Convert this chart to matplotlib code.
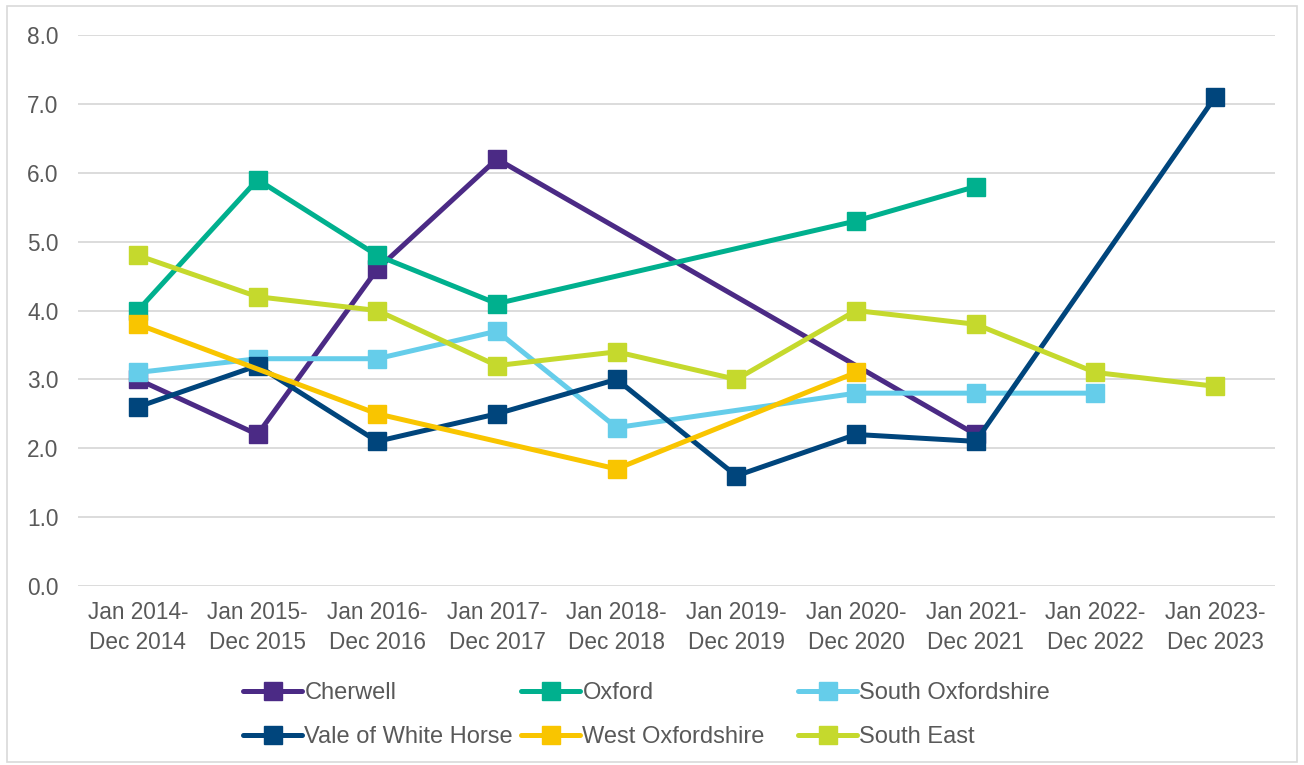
import numpy as np
import matplotlib.pyplot as plt
from matplotlib.patches import Rectangle

plt.rcParams['font.family'] = ['Liberation Sans', 'DejaVu Sans']

periods = ["Jan 2014-\nDec 2014", "Jan 2015-\nDec 2015", "Jan 2016-\nDec 2016",
           "Jan 2017-\nDec 2017", "Jan 2018-\nDec 2018", "Jan 2019-\nDec 2019",
           "Jan 2020-\nDec 2020", "Jan 2021-\nDec 2021", "Jan 2022-\nDec 2022",
           "Jan 2023-\nDec 2023"]

nan = np.nan
cherwell = [3.0, 2.2, 4.6, 6.2, nan, nan, nan, 2.2, nan, nan]
oxford = [4.0, 5.9, 4.8, 4.1, nan, nan, 5.3, 5.8, nan, nan]
south_oxon = [3.1, 3.3, 3.3, 3.7, 2.3, nan, 2.8, 2.8, 2.8, nan]
vale = [2.6, 3.2, 2.1, 2.5, 3.0, 1.6, 2.2, 2.1, nan, 7.1]
west_oxon = [3.8, nan, 2.5, nan, 1.7, nan, 3.1, nan, nan, nan]
south_east = [4.8, 4.2, 4.0, 3.2, 3.4, 3.0, 4.0, 3.8, 3.1, 2.9]

series = [
    ("Cherwell", cherwell, "#4B2A85"),
    ("Oxford", oxford, "#00B08E"),
    ("South Oxfordshire", south_oxon, "#65CDEA"),
    ("Vale of White Horse", vale, "#00457C"),
    ("West Oxfordshire", west_oxon, "#F9C500"),
    ("South East", south_east, "#C5D92D"),
]

fig = plt.figure(figsize=(13.04, 7.65), dpi=100)
ax = fig.add_axes([78 / 1304, 1 - 586 / 765, (1275 - 78) / 1304, (586 - 35) / 765])

x = np.arange(len(periods))
handles = []
for name, vals, col in series:
    y = np.array(vals, dtype=float)
    m = ~np.isnan(y)
    # connect across gaps, like the original
    h, = ax.plot(x[m], y[m], color=col, lw=3.6, marker='s', markersize=13,
                 solid_capstyle='round', label=name)
    handles.append(h)

ax.set_xlim(-0.5, 9.5)
ax.set_ylim(0, 8)
ax.set_yticks(np.arange(0, 8.1, 1))
ax.set_yticklabels([f"{v:.1f}" for v in np.arange(0, 8.1, 1)])
ax.set_xticks(x)
ax.set_xticklabels(periods, linespacing=1.4)
ax.tick_params(axis='both', length=0, labelsize=16.3, labelcolor='#595959')
ax.tick_params(axis='y', pad=14)
ax.tick_params(axis='x', pad=11)
ax.grid(axis='y', color='#D9D9D9', lw=1.3)
ax.set_axisbelow(True)
for s in ax.spines.values():
    s.set_visible(False)

# legend: three columns on a fixed grid
col_x = [243, 521, 798]
for i, cx in enumerate(col_x):
    hs = [handles[i], handles[i + 3]]
    leg = fig.legend(hs, [h.get_label() for h in hs], loc='upper left',
                     bbox_to_anchor=(cx / 1304, 1 - 682 / 765), frameon=False,
                     fontsize=17, handlelength=2.5, handletextpad=0.1,
                     labelspacing=0.95, borderpad=0, borderaxespad=0)
    for t in leg.get_texts():
        t.set_color('#595959')

fig.patches.append(Rectangle((7 / 1304, 3 / 765), 1290 / 1304, 756 / 765,
                             transform=fig.transFigure, fill=False,
                             edgecolor='#D9D9D9', lw=1.2))

fig.savefig("out.png", dpi=100)
